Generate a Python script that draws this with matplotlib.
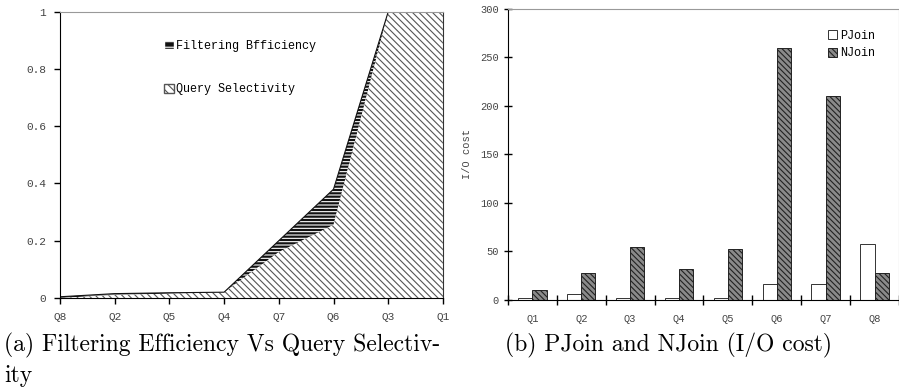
import matplotlib
matplotlib.use("Agg")
import matplotlib.pyplot as plt
import numpy as np
from matplotlib.patches import Patch

# left chart data
order_a = ["Q8", "Q2", "Q5", "Q4", "Q7", "Q6", "Q3", "Q1"]
selectivity = [0.0, 0.01, 0.015, 0.02, 0.16, 0.255, 1.0, 1.0]
filtering = [0.004, 0.015, 0.018, 0.02, 0.20, 0.38, 1.0, 1.0]

# right chart data
queries_b = ["Q1", "Q2", "Q3", "Q4", "Q5", "Q6", "Q7", "Q8"]
pjoin = [2, 6, 2, 2, 2, 16, 16, 58]
njoin = [10, 28, 55, 32, 52, 260, 210, 28]

plt.rcParams["hatch.linewidth"] = 0.8
tickfont = "Liberation Mono"
tickcol = "#444444"

fig = plt.figure(figsize=(8.99, 3.92), dpi=100)

# (a)
ax1 = fig.add_axes([0.0667, 0.240, 0.426, 0.730])
x = np.arange(len(order_a))
ax1.fill_between(x, selectivity, filtering, facecolor="#111111", edgecolor="white",
                 hatch="-----", linewidth=0)
ax1.fill_between(x, 0, selectivity, facecolor="white", edgecolor="#555555",
                 hatch="\\\\\\\\\\", linewidth=0)
ax1.plot(x, filtering, color="#111111", lw=0.8)
ax1.set_xlim(0, len(order_a) - 1)
ax1.set_ylim(0, 1)
ax1.set_xticks(x)
ax1.set_xticklabels(order_a, fontsize=8, family=tickfont, color=tickcol)
ax1.set_yticks([0, 0.2, 0.4, 0.6, 0.8, 1])
ax1.set_yticklabels(["0", "0.2", "0.4", "0.6", "0.8", "1"], fontsize=8,
                    family=tickfont, color=tickcol)
ax1.tick_params(direction="out", length=4, width=1, pad=6)
ax1.spines["top"].set_color("#999999")
ax1.spines["right"].set_color("#333333")
h1 = [Patch(facecolor="#111111", edgecolor="white", hatch="---", label="Filtering Bfficiency"),
      Patch(facecolor="white", edgecolor="#555555", hatch="\\\\\\\\", label="Query Selectivity")]
ax1.legend(handles=h1, loc="upper left", bbox_to_anchor=(0.245, 0.94), frameon=False,
           prop={"family": tickfont, "size": 8.5}, handlelength=0.8, handleheight=0.8,
           handletextpad=0.2, labelspacing=2.7)

# (b)
ax2 = fig.add_axes([0.565, 0.235, 0.435, 0.742])
xb = np.arange(len(queries_b))
w = 0.29
ax2.bar(xb - w / 2, pjoin, w, facecolor="white", edgecolor="#333333", linewidth=0.7,
        label="PJoin")
ax2.bar(xb + w / 2, njoin, w, facecolor="#8a8a8a", edgecolor="#222222", linewidth=0.7,
        hatch="\\\\\\\\\\\\", label="NJoin")
ax2.set_xlim(-0.5, len(queries_b) - 0.5)
ax2.set_ylim(0, 300)
ax2.set_yticks(range(0, 301, 50))
ax2.set_xticks(xb)
ax2.set_xticklabels(queries_b, fontsize=7.5, family=tickfont, color=tickcol)
ax2.set_xticks(np.arange(-0.5, len(queries_b), 1), minor=True)
ax2.tick_params(axis="x", which="major", length=0, pad=10)
ax2.tick_params(axis="x", which="minor", direction="inout", length=7, width=1)
ax2.tick_params(axis="y", direction="inout", length=6, width=1)
for lab in ax2.get_yticklabels():
    lab.set_fontsize(7.5)
    lab.set_family(tickfont)
    lab.set_color(tickcol)
ax2.spines["top"].set_color("#999999")
ax2.spines["right"].set_color("#999999")
ax2.set_ylabel("I/O cost", fontsize=7.5, family=tickfont, color=tickcol, labelpad=6)
ax2.legend(loc="upper left", bbox_to_anchor=(0.79, 0.965), frameon=False,
           prop={"family": tickfont, "size": 8.5}, handlelength=0.8, handleheight=0.8,
           handletextpad=0.3, labelspacing=0.45)

# captions
cap = {"family": "cmr10", "size": 17}
fig.text(0.005, 0.12, "(a) Filtering Efficiency Vs Query Selectiv-", ha="left",
         va="center", **cap)
fig.text(0.005, 0.04, "ity", ha="left", va="center", **cap)
fig.text(0.562, 0.12, "(b) PJoin and NJoin (I/O cost)", ha="left", va="center", **cap)

fig.savefig("out.png", dpi=100)
